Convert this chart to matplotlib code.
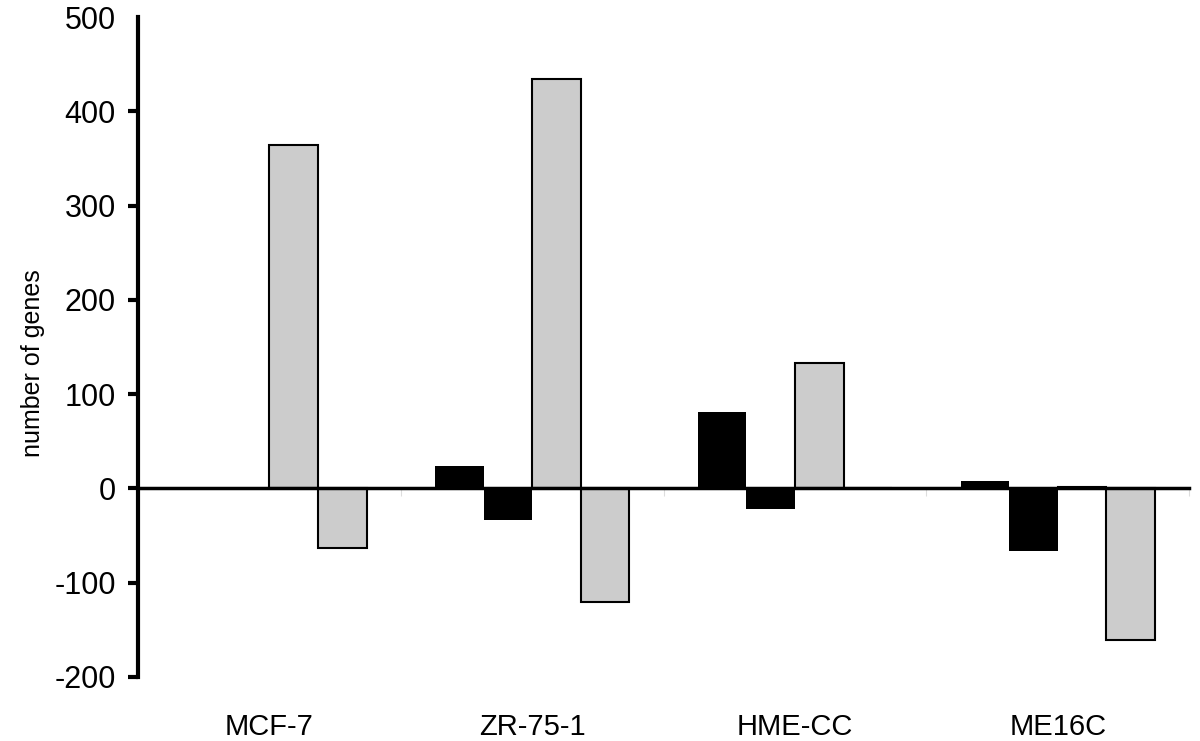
import numpy as np
import matplotlib
matplotlib.use("Agg")
import matplotlib.pyplot as plt

plt.rcParams["font.family"] = ["Liberation Sans", "DejaVu Sans"]
plt.rcParams["axes.unicode_minus"] = False

cells = ["MCF-7", "ZR-75-1", "HME-CC", "ME16C"]
black_up = [0, 24, 81, 8]
black_down = [0, -34, -22, -66]
gray_up = [364, 434, 133, 2]
gray_down = [-63, -120, 0, -161]

fig = plt.figure(figsize=(12, 7.41), dpi=100)
ax = fig.add_axes([0.115, 0.0864, 0.876, 0.8906])

x = np.arange(len(cells)); w = 0.185
ax.bar(x - 1.5 * w, black_up, w, color="black", linewidth=0)
ax.bar(x - 0.5 * w, black_down, w, color="black", linewidth=0)
ax.bar(x + 0.5 * w, gray_up, w, color="#cccccc", edgecolor="black", linewidth=1.5)
ax.bar(x + 1.5 * w, gray_down, w, color="#cccccc", edgecolor="black", linewidth=1.5)

ax.set_xlim(-0.5, 3.5); ax.set_ylim(-200, 500)
ax.set_yticks(np.arange(-200, 501, 100))
ax.tick_params(axis="y", direction="out", length=7, width=3, labelsize=22, pad=9)
ax.yaxis.get_major_ticks()[-1].tick1line.set_visible(False)
ax.set_ylabel("number of genes", fontsize=18)
ax.yaxis.set_label_coords(-0.088, 0.475)

for s in ["top", "right"]:
    ax.spines[s].set_visible(False)
ax.spines["left"].set_linewidth(3)
ax.spines["bottom"].set_position(("data", 0))
ax.spines["bottom"].set_linewidth(2.5)
ax.spines["bottom"].set_zorder(5)
ax.set_xticks([])
ax.set_xticks(np.arange(0.5, 4, 1), minor=True)
ax.tick_params(axis="x", which="minor", direction="out", length=6, width=0.8, color="#dddddd")
ax.set_xticklabels([], minor=True)

sec = ax.secondary_xaxis(0)
sec.set_xticks(x)
sec.set_xticklabels(cells, fontsize=21)
sec.tick_params(length=0, pad=26)
sec.spines["bottom"].set_visible(False)

plt.savefig("out.png", dpi=100)
